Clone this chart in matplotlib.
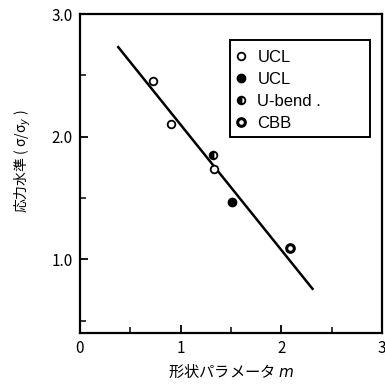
import matplotlib
matplotlib.use("Agg")
import matplotlib.pyplot as plt
from matplotlib.patches import Rectangle

plt.rcParams['font.family'] = ['Noto Sans CJK JP', 'DejaVu Sans']

ucl_open_x = [0.73, 0.90, 1.33]
ucl_open_y = [2.45, 2.10, 1.74]
ucl_fill_x = [1.51]
ucl_fill_y = [1.47]
ubend_x = [1.32]
ubend_y = [1.85]
cbb_x = [2.09]
cbb_y = [1.09]
fit_x = [0.38, 2.31]
fit_y = [2.73, 0.76]

labels = ["UCL", "UCL", "U\u2010bend .", "CBB"]
xticks = [0, 1, 2, 3]
yticks = [1.0, 2.0, 3.0]

fig = plt.figure(figsize=(3.85, 3.85), dpi=100)
ax = fig.add_axes([80/385, 52/385, 302/385, 319/385])

ax.plot(fit_x, fit_y, color='black', lw=1.8, zorder=2)
ms = 5.5
h1, = ax.plot(ucl_open_x, ucl_open_y, 'o', mfc='white', mec='black', mew=1.3, ms=ms, zorder=3, ls='none')
h2, = ax.plot(ucl_fill_x, ucl_fill_y, 'o', mfc='black', mec='black', ms=ms+0.5, zorder=3, ls='none')
h3, = ax.plot(ubend_x, ubend_y, 'o', fillstyle='left', mfc='black', mfcalt='white', mec='black', mew=1.3, ms=ms, zorder=3, ls='none')
h4, = ax.plot(cbb_x, cbb_y, 'o', mfc='white', mec='black', mew=2.2, ms=ms, zorder=3, ls='none')

ax.set_xlim(0, 3)
ax.set_ylim(0.4, 3.0)
ax.set_xticks(xticks)
ax.set_xticklabels([str(t) for t in xticks], fontsize=11)
ax.set_yticks(yticks)
ax.set_yticklabels([f"{t:.1f}" for t in yticks], fontsize=11)
ax.set_xticks([0.5, 1.5, 2.5], minor=True)
ax.set_yticks([0.5, 1.5, 2.5], minor=True)
ax.tick_params(axis='both', which='major', direction='in', length=6, width=1.3, top=False, right=False, pad=5)
ax.tick_params(axis='both', which='minor', direction='in', length=4, width=1.1, top=False, right=False)
for s in ax.spines.values():
    s.set_linewidth(1.6)

ax.set_xlabel("形状パラメータ $m$", fontsize=11, labelpad=4)
ax.set_ylabel("応力水準 ( σ/σ$_y$ )", fontsize=10)
ax.yaxis.set_label_coords(-0.155, 0.54)

# legend frame
ax.add_patch(Rectangle((150/302, (333-137)/319), 140/302, 97/319, transform=ax.transAxes,
                       fill=False, edgecolor='black', lw=1.4, zorder=4))
leg = ax.legend([h1, h2, h3, h4], labels, loc='upper left', bbox_to_anchor=(154/302, 1 - 36/319),
                frameon=False, fontsize=12,
                handlelength=0.8, handletextpad=0.6, borderpad=0.0, borderaxespad=0.0,
                labelspacing=0.42)
for t in leg.get_texts():
    t.set_family(['Liberation Sans', 'DejaVu Sans'])

fig.savefig("out.png", dpi=100)
